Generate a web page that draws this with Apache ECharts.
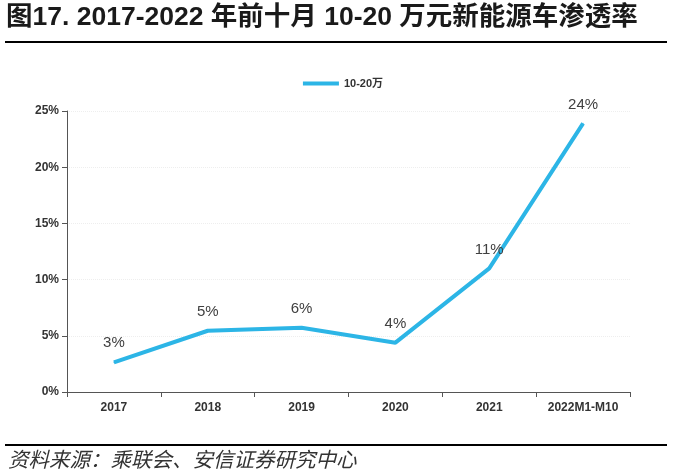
<!DOCTYPE html>
<html><head><meta charset="utf-8">
<script src="https://cdn.jsdelivr.net/npm/echarts@6/dist/echarts.min.js"></script>
<style>html,body{margin:0;padding:0;background:#fff}#c{width:686px;height:474px}</style>
</head><body><div id="c"></div>
<script>
const categories = ['2017','2018','2019','2020','2021','2022M1-M10'];
const values = [2.64, 5.45, 5.72, 4.39, 11.0, 23.9];
const pointLabels = ['3%','5%','6%','4%','11%','24%'];
const seriesName = '10-20万';
const titleText = '图17. 2017-2022 年前十月 10-20 万元新能源车渗透率';
const sourceText = '资料来源：乘联会、安信证券研究中心';

const chart = echarts.init(document.getElementById('c'));
chart.setOption({
  animation: false,
  graphic: [
    {type:'text', left: 6, top: 4, style:{text: titleText, font:'bold 26.5px "Liberation Sans","Noto Sans CJK SC",sans-serif', fill:'#1a1a1a'}},
    {type:'rect', shape:{x:5, y:41, width:662, height:2}, style:{fill:'#000'}},
    {type:'rect', shape:{x:5, y:444, width:662, height:2}, style:{fill:'#000'}},
    {type:'text', left: 8, top: 449, style:{text: sourceText, font:'italic 20.5px "Noto Sans CJK SC",sans-serif', fill:'#333'}}
  ],
  legend: {
    top: 73, left: 'center',
    itemWidth: 36, itemHeight: 4, icon: 'rect',
    textStyle: {fontSize: 11, fontWeight: 'bold', color: '#333', fontFamily: 'Liberation Sans, Noto Sans CJK SC, sans-serif'},
    data: [seriesName]
  },
  grid: {left: 67, right: 56, top: 111, bottom: 82},
  xAxis: {
    type: 'category', data: categories, boundaryGap: true,
    axisLine: {lineStyle: {color: '#555', width: 1}},
    axisTick: {show: true, length: 5, lineStyle: {color: '#555'}},
    axisLabel: {color: '#333', fontSize: 12, fontWeight: 'bold', fontFamily: 'Liberation Sans, sans-serif', margin: 10}
  },
  yAxis: {
    type: 'value', min: 0, max: 25, interval: 5,
    axisLine: {show: true, lineStyle: {color: '#555', width: 1}},
    axisTick: {show: true, length: 5, lineStyle: {color: '#555'}},
    axisLabel: {color: '#333', fontSize: 12, fontWeight: 'bold', fontFamily: 'Liberation Sans, sans-serif', formatter: '{value}%', margin: 8},
    splitLine: {show: true, lineStyle: {color: '#eeeeee', type: 'dotted'}}
  },
  series: [{
    name: seriesName, type: 'line', data: values,
    symbol: 'circle', symbolSize: 1, showSymbol: true, smooth: false,
    lineStyle: {color: '#2cb5e6', width: 4},
    itemStyle: {color: '#2cb5e6'},
    label: {
      show: true, position: 'top', distance: 11,
      color: '#404040', fontSize: 15, fontFamily: 'Liberation Sans, sans-serif',
      formatter: p => pointLabels[p.dataIndex]
    }
  }]
});
</script></body></html>
